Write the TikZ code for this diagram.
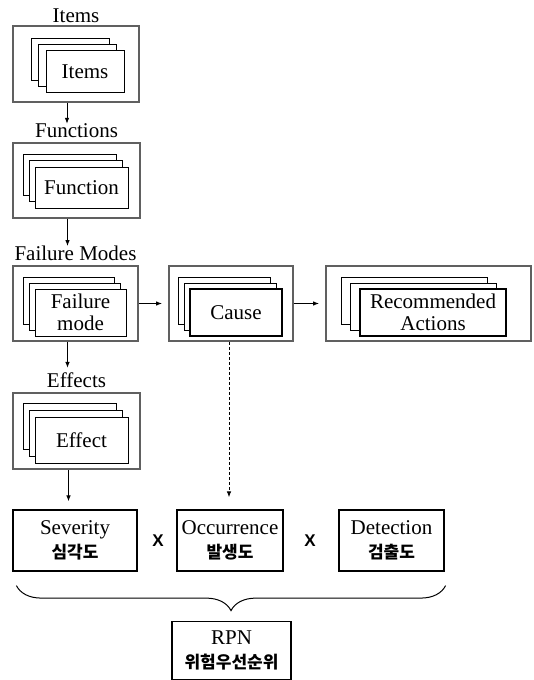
\documentclass[tikz,border=0pt]{standalone}
\usepackage{fontspec}
\setmainfont{Liberation Serif}
\newfontfamily\krfont{Noto Sans CJK KR}
\newfontfamily\xfont{Liberation Sans}
\usetikzlibrary{positioning}
\usetikzlibrary{arrows.meta}
\usetikzlibrary{decorations.pathreplacing}

\tikzset{
  outerbox/.style={draw=gray!75!black, line width=1.8pt, fill=white, inner sep=0pt},
  card/.style={draw, line width=0.8pt, fill=white, inner sep=0pt, align=center,
    font=\fontsize{21}{22}\selectfont},
  frontcard/.style={card, line width=1.3pt},
  grouptitle/.style={inner sep=0pt, text depth=0pt, font=\fontsize{21}{22}\selectfont},
  scorebox/.style={draw, line width=1.2pt, inner sep=0pt, align=center,
    minimum height=61pt, font=\fontsize{21}{24}\selectfont},
  times/.style={font=\xfont\bfseries\fontsize{17}{17}\selectfont},
  flow/.style={-{Latex[length=6pt,width=4.5pt]}, line width=0.9pt},
}
\newcommand{\kr}[1]{{\krfont\bfseries\fontsize{17}{17}\selectfont #1}}

\begin{document}
\begin{tikzpicture}[x=1pt, y=-1pt]
    \useasboundingbox (0,0) rectangle (533,680);

    % 1st level: items
    \node[outerbox, minimum width=126pt, minimum height=76pt] (items-box) at (76,64) {};
    \node[grouptitle, above=2pt of items-box] (items-title) {Items};
    \node[card, minimum width=78pt, minimum height=42pt] (items-c1) at (70,59) {};
    \node[card, minimum width=78pt, minimum height=42pt] (items-c2) at (77.5,65) {};
    \node[card, minimum width=78pt, minimum height=42pt] (items) at (85,71.5) {Items};

    % 2nd level: functions
    \node[outerbox, minimum width=127pt, minimum height=75pt] (func-box) at (76.5,180.5) {};
    \node[grouptitle, above=4pt of func-box] (func-title) {Functions};
    \node[card, minimum width=93pt, minimum height=41pt] (func-c1) at (69.5,174.5) {};
    \node[card, minimum width=93pt, minimum height=41pt] (func-c2) at (75.5,181) {};
    \node[card, minimum width=93pt, minimum height=41pt] (func) at (81.5,187.5) {Function};
    \draw[flow] ([xshift=-9pt]items-box.south) coordinate (a1) -- (a1 |- func-title.north);

    % 3rd level: failure modes, causes, actions
    \node[outerbox, minimum width=125pt, minimum height=75pt] (fail-box) at (75.5,303.5) {};
    \node[grouptitle, above=4pt of fail-box] (fail-title) {Failure Modes};
    \node[card, minimum width=91pt, minimum height=47pt] (fail-c1) at (68.5,300.5) {};
    \node[card, minimum width=91pt, minimum height=47pt] (fail-c2) at (74.5,306.5) {};
    \node[card, minimum width=91pt, minimum height=47pt] (fail) at (80.5,312.5) {Failure\\mode};
    \draw[flow] ([xshift=-9pt]func-box.south) coordinate (a2) -- (a2 |- fail-title.north);
    % cause
    \node[outerbox, minimum width=124pt, minimum height=75pt] (cause-box) at (231,303.5) {};
    \node[card, minimum width=92pt, minimum height=47pt] (cause-c1) at (224,300.5) {};
    \node[card, minimum width=92pt, minimum height=47pt] (cause-c2) at (230,306.5) {};
    \node[frontcard, minimum width=92pt, minimum height=47pt] (cause) at (236,312.5) {Cause};
    \draw[flow, shorten >=6pt] (fail-box.east) -- (cause-box.west);
    % actions
    \node[outerbox, minimum width=205pt, minimum height=75pt] (act-box) at (428.5,303.5) {};
    \node[card, minimum width=146pt, minimum height=47pt] (act-c1) at (414,300.5) {};
    \node[card, minimum width=146pt, minimum height=47pt] (act-c2) at (423.5,306.5) {};
    \node[frontcard, minimum width=146pt, minimum height=47pt] (act) at (433,312.5) {Recommended\\Actions};
    \draw[flow, shorten >=6pt] (cause-box.east) -- (act-box.west);

    % 4th level: effects
    \node[outerbox, minimum width=127pt, minimum height=76pt] (eff-box) at (76.5,431) {};
    \node[grouptitle, above=4pt of eff-box] (eff-title) {Effects};
    \node[card, minimum width=93pt, minimum height=46pt] (eff-c1) at (69.5,426) {};
    \node[card, minimum width=93pt, minimum height=46pt] (eff-c2) at (75.5,433) {};
    \node[card, minimum width=93pt, minimum height=46pt] (eff) at (81.5,440) {Effect};
    \draw[flow, shorten >=5pt] ([xshift=-8pt]fail-box.south) coordinate (a3) -- (a3 |- eff-title.north);

    % 5th level: ratings
    \node[scorebox, minimum width=124pt] (sev) at (75,540.5) {Severity\\\kr{심각도}};
    \node[scorebox, minimum width=106pt] (occ) at (230,540.5) {Occurrence\\\kr{발생도}};
    \node[scorebox, minimum width=105pt] (det) at (391.5,540.5) {Detection\\\kr{검출도}};
    \node[times] (x1) at (158,541) {X};
    \node[times] (x2) at (310,541) {X};
    \draw[flow, shorten >=8pt] ([xshift=-8pt]eff-box.south) coordinate (a4) -- (a4 |- sev.north);
    \draw[flow, dashed, dash pattern=on 3pt off 2pt, shorten >=12pt]
      ([xshift=-2pt]cause-box.south) coordinate (a5) -- (a5 |- occ.north);

    % 6th level: risk priority number
    \coordinate (brace-l) at ([xshift=4pt, yshift=-14pt]sev.south west);
    \coordinate (brace-r) at ([xshift=1pt, yshift=-14pt]det.south east);
    \draw[line width=1pt, decorate, decoration={brace, mirror, amplitude=25pt, aspect=0.5}]
      (brace-l) -- (brace-r);
    \node[scorebox, minimum width=119pt, minimum height=58pt] (rpn) at (231.5,650.5) {RPN\\\kr{위험우선순위}};

\end{tikzpicture}
\end{document}
